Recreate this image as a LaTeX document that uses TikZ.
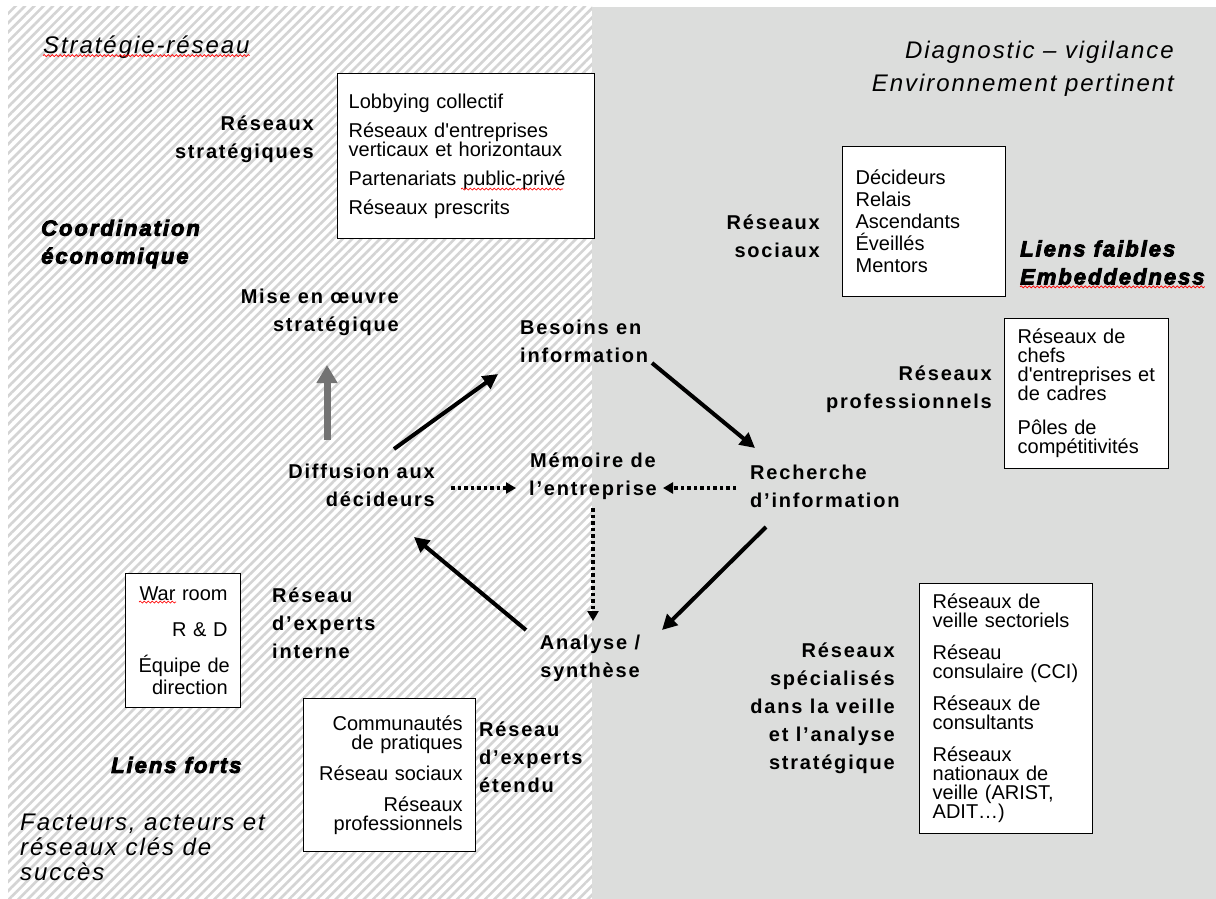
\documentclass[tikz,border=0pt]{standalone}
\usepackage{fontspec}
\setmainfont{Liberation Sans}
\newfontfamily\lblfont[LetterSpace=9]{Liberation Sans}
\newfontfamily\ttlfont[LetterSpace=8]{Liberation Sans}
\newfontfamily\heavyfont[LetterSpace=9,FakeBold=4]{Liberation Sans}
\usetikzlibrary{arrows.meta,patterns.meta,decorations.pathmorphing}
\definecolor{bggray}{RGB}{220,221,220}
\definecolor{hatch}{RGB}{212,212,212}
\tikzset{
  lbl/.style={font=\lblfont\bfseries\fontsize{20}{28}\selectfont, inner sep=0pt},
  ttl/.style={font=\ttlfont\itshape\fontsize{24}{25}\selectfont, inner sep=0pt},
  heavy/.style={font=\heavyfont\bfseries\itshape\fontsize{22}{28}\selectfont, inner sep=0pt},
  listbox/.style={draw, line width=1.3pt, fill=white, font=\fontsize{20}{19}\selectfont, anchor=north west, inner ysep=0pt},
  cyc/.style={line width=4pt, -{Triangle[length=15pt,width=15pt]}},
  memo/.style={line width=4pt, dash pattern=on 3.5pt off 3pt, -{Triangle[length=10pt,width=11pt]}},
  spell/.style={red, line width=0.7pt, decorate, decoration={snake, segment length=4pt, amplitude=1pt}}
}
\begin{document}
\begin{tikzpicture}[x=1pt,y=-1pt]
	% background: hatched left half, grey right half
	\useasboundingbox (0,0) rectangle (1216,899);
	\fill[white] (0,0) rectangle (1216,899);
	\fill[pattern={Lines[angle=45,distance=6.6pt,line width=2.6pt]}, pattern color=hatch] (8,7) rectangle (592,899);
	\fill[bggray] (592,7) rectangle (1216,899);

	\node[ttl, anchor=west] at (43,47) (strat) {Stratégie-réseau};
	\node[ttl, anchor=east, align=right] at (1174,68.5) (diag) {Diagnostic – vigilance\\[8pt]Environnement pertinent};
	\node[ttl, anchor=west, align=left] at (20,847) (fact) {Facteurs, acteurs et\\réseaux clés de\\succès};

	\node[heavy, anchor=west, align=left] at (41,244) (coord) {Coordination\\économique};
	\node[heavy, anchor=west, align=left] at (1020,262.5) (faibles) {Liens faibles\\Embeddedness};
	\node[heavy, anchor=west] at (111,765) (forts) {Liens forts};

	\node[lbl, anchor=east, align=right] at (314,139.5) (strlbl) {Réseaux\\stratégiques};
	\node[lbl, anchor=east, align=right] at (820,236) (soclbl) {Réseaux\\sociaux};
	\node[lbl, anchor=east, align=right] at (992,389) (prolbl) {Réseaux\\professionnels};
	\node[lbl, anchor=west, align=left] at (272,623) (intlbl) {Réseau\\d’experts\\interne};
	\node[lbl, anchor=west, align=left] at (479,757) (etlbl) {Réseau\\d’experts\\étendu};
	\node[lbl, anchor=east, align=right] at (895,708.5) (veillbl) {Réseaux\\spécialisés\\dans la veille\\et l’analyse\\stratégique};

	% the cycle
	\node[lbl, anchor=east, align=right] at (399,312.5) (mise) {Mise en œuvre\\stratégique};
	\node[lbl, anchor=west, align=left] at (520,341.5) (bes) {Besoins en\\information};
	\node[lbl, anchor=west, align=left] at (750,486) (rech) {Recherche\\d’information};
	\node[lbl, align=center] at (590,658.5) (ana) {Analyse /\\synthèse};
	\node[lbl, anchor=east, align=right] at (435,485.5) (diff) {Diffusion aux\\décideurs};
	\node[lbl, align=center] at (593,476) (mem) {Mémoire de\\l’entreprise};

	% boxes
	\node[listbox, minimum width=257pt, minimum height=165pt, inner xsep=11pt, text width=235pt, align=left] at (337,73) (strabox)
		{Lobbying collectif\\[10pt]Réseaux d\textquotesingle entreprises\\verticaux et horizontaux\\[10pt]Partenariats public-privé\\[10pt]Réseaux prescrits};
	\node[listbox, minimum width=163pt, minimum height=150pt, inner xsep=13pt, text width=137pt, align=left] at (842,146) (socbox)
		{Décideurs\\[3pt]Relais\\[3pt]Ascendants\\[3pt]Éveillés\\[3pt]Mentors};
	\node[listbox, minimum width=164pt, minimum height=150pt, inner xsep=13pt, text width=138pt, align=left] at (1004,318) (probox)
		{Réseaux de\\chefs\\d\textquotesingle entreprises et\\de cadres\\[15pt]Pôles de\\compétitivités};
	\node[listbox, minimum width=115pt, minimum height=134pt, inner xsep=13pt, text width=89pt, align=right] at (125,573) (intbox)
		{War room\\[17pt]R \& D\\[17pt]Équipe~de\\[3pt]direction};
	\node[listbox, minimum width=172pt, minimum height=153pt, inner xsep=13pt, text width=146pt, align=right] at (303,698) (etbox)
		{Communautés\\de pratiques\\[12pt]Réseau sociaux\\[12pt]Réseaux\\professionnels};
	\node[listbox, minimum width=173pt, minimum height=250pt, inner xsep=13pt, text width=147pt, align=left] at (919,583) (veilbox)
		{Réseaux de\\veille sectoriels\\[13pt]Réseau\\consulaire (CCI)\\[13pt]Réseaux de\\consultants\\[13pt]Réseaux\\nationaux de\\veille (ARIST,\\ADIT…)};

	\draw[cyc] ([shift={(-41,-36.5)}]diff.east) -- ([shift={(-22,32.5)}]bes.west);
	\draw[cyc] ([shift={(132,21.5)}]bes.west) -- ([shift={(5,-38)}]rech.west);
	\draw[cyc] ([shift={(16,41)}]rech.west) -- ([shift={(72,-28.5)}]ana.center);
	\draw[cyc] ([shift={(-64,-28.5)}]ana.center) -- ([shift={(-21,51.5)}]diff.east);
	\draw[memo] ([shift={(16,2.5)}]diff.east) -- ([shift={(-77,12)}]mem.center);
	\draw[memo] ([shift={(-14,2)}]rech.west) -- ([shift={(70,12)}]mem.center);
	\draw[memo] ([shift={(0,32)}]mem.center) -- ([shift={(3,-37.5)}]ana.center);
	\draw[line width=7pt, black!55, -{Triangle[length=18pt,width=20pt]}] ([shift={(-108,-45.5)}]diff.east) -- ([shift={(-72,52.5)}]mise.east);

	% spell-check squiggles
	\draw[spell] ([yshift=3]strat.south west) -- ([yshift=3]strat.south east);
	\draw[spell] ([yshift=-2]faibles.south west) -- ([yshift=-2]faibles.south east);
	\draw[spell] ([shift={(124,116)}]strabox.north west) -- ([shift={(226,116)}]strabox.north west);
	\draw[spell] ([shift={(14,29)}]intbox.north west) -- ([shift={(51,29)}]intbox.north west);
\end{tikzpicture}
\end{document}
